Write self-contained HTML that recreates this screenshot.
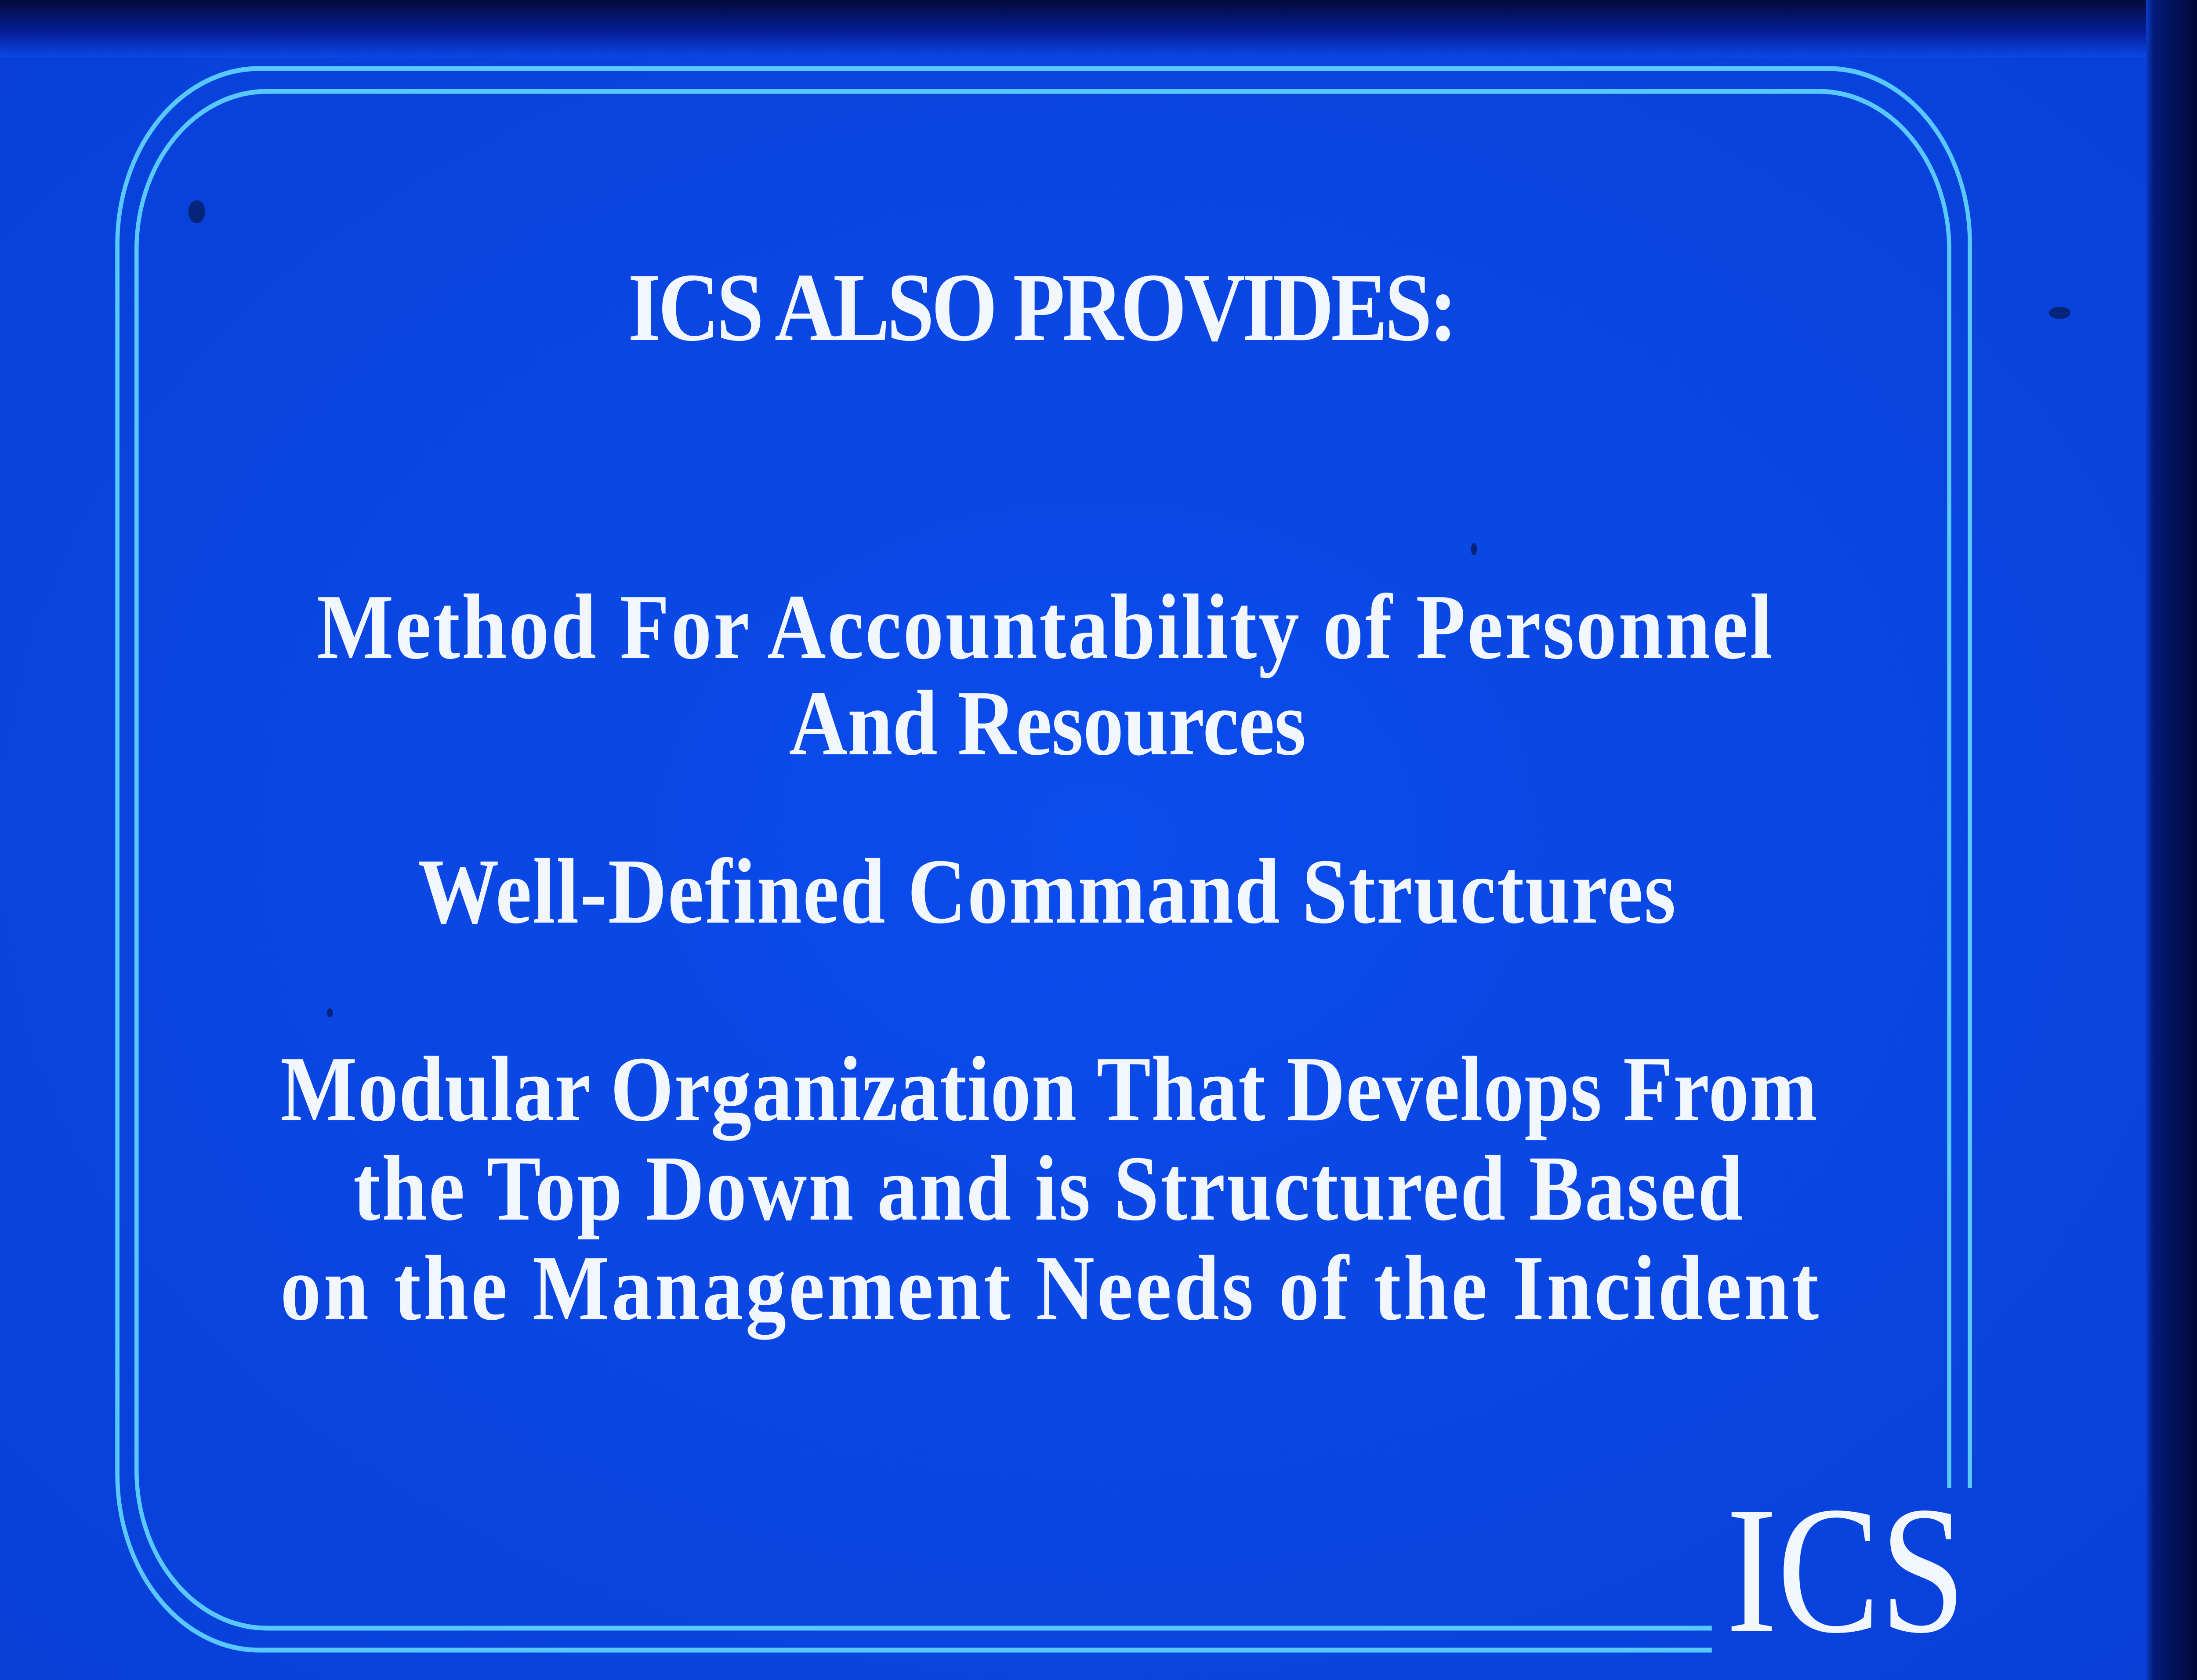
<!DOCTYPE html>
<html><head><meta charset="utf-8"><style>
html,body{margin:0;padding:0;background:#0a48e6;width:100%;height:100%;overflow:hidden;}
svg{display:block;width:100vw;height:100vh;}
</style></head><body>
<svg viewBox="0 0 5728 3824" preserveAspectRatio="none" xmlns="http://www.w3.org/2000/svg">
<defs>
<linearGradient id="topg" x1="0" y1="0" x2="0" y2="1">
<stop offset="0" stop-color="#020a3a"/><stop offset="0.6" stop-color="#0620a0"/><stop offset="1" stop-color="#0a48e6"/>
</linearGradient>
<linearGradient id="rg" x1="0" y1="0" x2="1" y2="0">
<stop offset="0" stop-color="#0a3cc8"/><stop offset="0.15" stop-color="#031a78"/><stop offset="1" stop-color="#010838"/>
</linearGradient>
<radialGradient id="bgg" cx="0.5" cy="0.5" r="0.7">
<stop offset="0" stop-color="#0b4cec"/><stop offset="1" stop-color="#0840d8"/>
</radialGradient>
</defs>
<rect x="0" y="0" width="5728" height="3824" fill="url(#bgg)"/>
<rect x="0" y="0" width="5728" height="130" fill="url(#topg)"/>
<rect x="5595" y="0" width="133" height="3824" fill="url(#rg)"/>
<g fill="none" stroke="#58c8ff" stroke-width="11">
<path d="M 5136 3387 L 5136 556 A 370 400 0 0 0 4766 156 L 676 156 A 370 400 0 0 0 306 556 L 306 3356 A 370 400 0 0 0 676 3756 L 4463 3756"/>
<path d="M 5082 3387 L 5082 568 A 340 360 0 0 0 4742 208 L 696 208 A 340 360 0 0 0 356 568 L 356 3346 A 340 360 0 0 0 696 3706 L 4463 3706"/>
</g>
<g fill="#f2f6ff" font-family="'Liberation Serif', serif" font-weight="bold">
<text x="1637" y="774" font-size="222" textLength="2163" lengthAdjust="spacing">ICS ALSO PROVIDES:</text>
<text x="826" y="1498" font-size="212" textLength="3795" lengthAdjust="spacing">Method For Accountability of Personnel</text>
<text x="2057" y="1717" font-size="212" textLength="1348" lengthAdjust="spacing">And Resources</text>
<text x="1089" y="2100" font-size="212" textLength="3280" lengthAdjust="spacing">Well-Defined Command Structures</text>
<text x="731" y="2550" font-size="212" textLength="4007" lengthAdjust="spacing">Modular Organization That Develops From</text>
<text x="921" y="2776" font-size="212" textLength="3623" lengthAdjust="spacing">the Top Down and is Structured Based</text>
<text x="731" y="3003" font-size="212" textLength="4011" lengthAdjust="spacing">on the Management Needs of the Incident</text>
<text x="4500" y="3713" font-size="415" font-weight="normal" textLength="625" lengthAdjust="spacingAndGlyphs">ICS</text>
</g>
<g fill="#06257a">
<ellipse cx="513" cy="482" rx="22" ry="26"/>
<ellipse cx="5370" cy="712" rx="28" ry="14"/>
<ellipse cx="3843" cy="1250" rx="8" ry="14"/>
<ellipse cx="860" cy="2305" rx="8" ry="10"/>
</g>
</svg>
</body></html>
